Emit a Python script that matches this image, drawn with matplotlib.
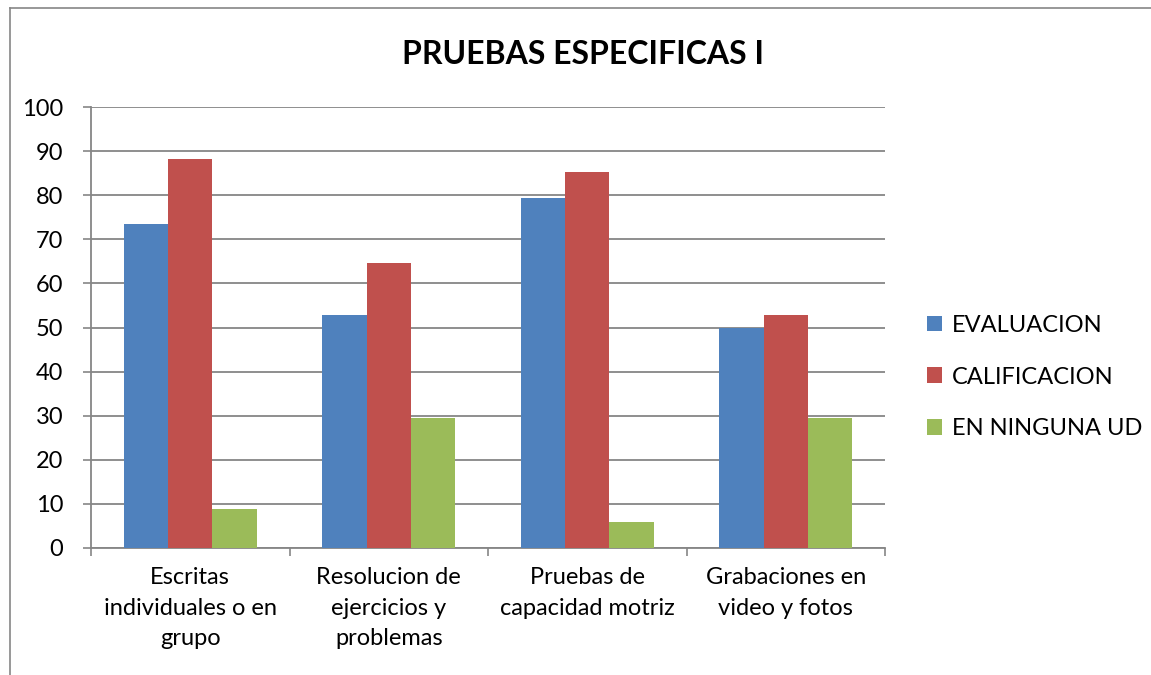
import matplotlib.pyplot as plt
import numpy as np
from matplotlib.lines import Line2D

categories = ["Escritas\nindividuales o en\ngrupo",
              "Resolucion de\nejercicios y\nproblemas",
              "Pruebas de\ncapacidad motriz",
              "Grabaciones en\nvideo y fotos"]
evaluacion = [73.5, 52.9, 79.4, 50.0]
calificacion = [88.2, 64.7, 85.3, 52.9]
ninguna = [8.8, 29.4, 5.9, 29.4]
series_names = ["EVALUACION", "CALIFICACION", "EN NINGUNA UD"]
colors = ["#4F81BD", "#C0504D", "#9BBB59"]

plt.rcParams['font.family'] = ['Lato', 'DejaVu Sans']

W, H = 1151, 675
fig = plt.figure(figsize=(W / 100, H / 100), dpi=100)
ax = fig.add_axes([91 / W, 1 - 548 / H, (885 - 91) / W, (548 - 107) / H])

x = np.arange(len(categories))
w = 0.223
for i, (vals, name, c) in enumerate(zip([evaluacion, calificacion, ninguna], series_names, colors)):
    ax.bar(x + (i - 1) * w, vals, w, color=c, label=name, zorder=3)

ax.set_xlim(-0.5, len(categories) - 0.5)
ax.set_ylim(0, 100)
ax.set_yticks(range(0, 101, 10))
ax.tick_params(axis='y', labelsize=17, length=6, color='#868686', width=1.2, pad=14)
ax.set_xticks(np.arange(-0.5, len(categories), 1.0))
ax.set_xticklabels([])
ax.tick_params(axis='x', length=6, color='#868686', width=1.2)
ax.set_xticks(x, minor=True)
ax.set_xticklabels(categories, minor=True, fontsize=17, linespacing=1.55)
ax.tick_params(axis='x', which='minor', length=0, pad=14)
ax.grid(axis='y', color='#868686', linewidth=1.3, zorder=0)
for s in ['top', 'right']:
    ax.spines[s].set_visible(False)
for s in ['left', 'bottom']:
    ax.spines[s].set_color('#868686')
    ax.spines[s].set_linewidth(1.3)

fig.text(583 / W, 1 - 55 / H, "PRUEBAS ESPECIFICAS I", ha='center', va='center',
         fontsize=23, fontweight='bold')

leg = fig.legend(loc='center left', bbox_to_anchor=(927 / W, 1 - 377 / H), frameon=False,
                 fontsize=17, handlelength=0.65, handleheight=0.65, handletextpad=0.4,
                 labelspacing=1.3, borderpad=0, borderaxespad=0)

# outer chart border
fig.add_artist(Line2D([10 / W, 10 / W], [0, 1 - 8 / H], color='#868686', lw=1.2))
fig.add_artist(Line2D([10 / W, 1], [1 - 8 / H, 1 - 8 / H], color='#868686', lw=1.2))

fig.savefig("out.png", dpi=100)
